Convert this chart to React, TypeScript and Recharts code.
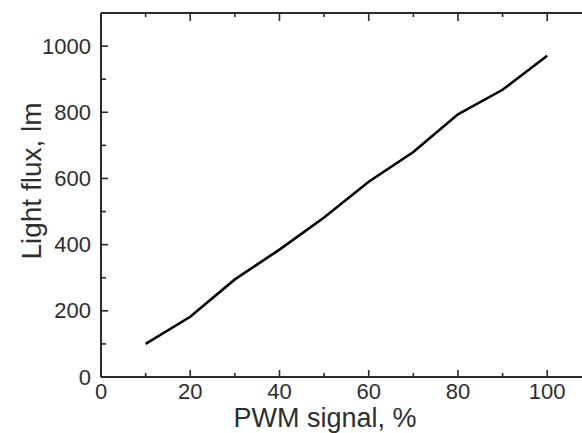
import React from 'react';
import { LineChart, Line, XAxis, YAxis, Label } from 'recharts';

const pwmSignal = [10, 20, 30, 40, 50, 60, 70, 80, 90, 100];
const lightFlux = [100, 182, 295, 385, 482, 590, 680, 794, 868, 971];
const xTicks = [0, 10, 20, 30, 40, 50, 60, 70, 80, 90, 100];
const yTicks = [0, 100, 200, 300, 400, 500, 600, 700, 800, 900, 1000];
const xLabelStep = 20;
const yLabelStep = 200;

const data = pwmSignal.map((x, i) => ({ x, y: lightFlux[i] }));

const AXIS = '#2a2a2a';
const TEXT = '#2e2e2e';
const FONT = '"Liberation Sans", Arial, sans-serif';

function BottomTick(props: any) {
  const { x, y, payload } = props;
  const major = payload.value % xLabelStep === 0;
  return (
    <g>
      <path d={`M${x},${y}L${x},${y - (major ? 7 : 4)}`} stroke={AXIS} strokeWidth={1.6} fill="none" />
      {major && (
        <text x={x} y={y + 14} textAnchor="middle" dominantBaseline="central" fontSize={22} fill={TEXT} fontFamily={FONT}>
          {payload.value}
        </text>
      )}
    </g>
  );
}

function TopTick(props: any) {
  const { x, y, payload } = props;
  const major = payload.value % xLabelStep === 0;
  return <path d={`M${x},${y}L${x},${y + (major ? 8 : 4)}`} stroke={AXIS} strokeWidth={1.6} fill="none" />;
}

function LeftTick(props: any) {
  const { x, y, payload } = props;
  const major = payload.value % yLabelStep === 0;
  return (
    <g>
      <path d={`M${x},${y}L${x + (major ? 7 : 5)},${y}`} stroke={AXIS} strokeWidth={1.6} fill="none" />
      {major && (
        <text x={x - 10} y={y} textAnchor="end" dominantBaseline="central" fontSize={22} fill={TEXT} fontFamily={FONT}>
          {payload.value}
        </text>
      )}
    </g>
  );
}

function XTitle(props: any) {
  const vb = props.viewBox || {};
  return (
    <text x={vb.x + 224} y={vb.y + 50} textAnchor="middle" fontSize={27} fill={TEXT} fontFamily={FONT}>
      PWM signal, %
    </text>
  );
}

function YTitle(props: any) {
  const vb = props.viewBox || {};
  const cx = 31;
  const cy = vb.y + vb.height / 2 - 14;
  return (
    <text x={cx} y={cy} textAnchor="middle" dominantBaseline="central" fontSize={28} fill={TEXT} fontFamily={FONT} transform={`rotate(-90, ${cx}, ${cy})`}>
      Light flux, lm
    </text>
  );
}

export default function App() {
  return (
    <div style={{ position: 'fixed', left: 0, top: 0, width: 582, height: 433, background: '#fff' }}>
      <LineChart width={582} height={433} data={data} margin={{ top: 12, right: 0, bottom: 0, left: 0 }}>
        <XAxis
          dataKey="x"
          type="number"
          domain={[0, 107.8]}
          ticks={xTicks}
          allowDataOverflow
          height={56}
          tickSize={0}
          tickMargin={0}
          tickLine={false}
          tick={<BottomTick />}
          axisLine={{ stroke: AXIS, strokeWidth: 2 }}
          interval={0}
        >
          <Label content={<XTitle />} />
        </XAxis>
        <XAxis
          xAxisId="top"
          dataKey="x"
          orientation="top"
          type="number"
          domain={[0, 107.8]}
          ticks={xTicks}
          allowDataOverflow
          height={1}
          tickSize={0}
          tickMargin={0}
          tickLine={false}
          tick={<TopTick />}
          axisLine={{ stroke: AXIS, strokeWidth: 2 }}
          interval={0}
        />
        <YAxis
          type="number"
          domain={[0, 1100]}
          ticks={yTicks}
          allowDataOverflow
          width={101}
          tickSize={0}
          tickMargin={0}
          tickLine={false}
          tick={<LeftTick />}
          axisLine={{ stroke: AXIS, strokeWidth: 2 }}
          interval={0}
        >
          <Label content={<YTitle />} />
        </YAxis>
        <Line
          xAxisId="top"
          dataKey="y"
          type="linear"
          stroke="none"
          dot={false}
          legendType="none"
          isAnimationActive={false}
        />
        <Line
          dataKey="y"
          type="linear"
          stroke="#000"
          strokeWidth={2.6}
          dot={false}
          isAnimationActive={false}
        />
      </LineChart>
    </div>
  );
}
